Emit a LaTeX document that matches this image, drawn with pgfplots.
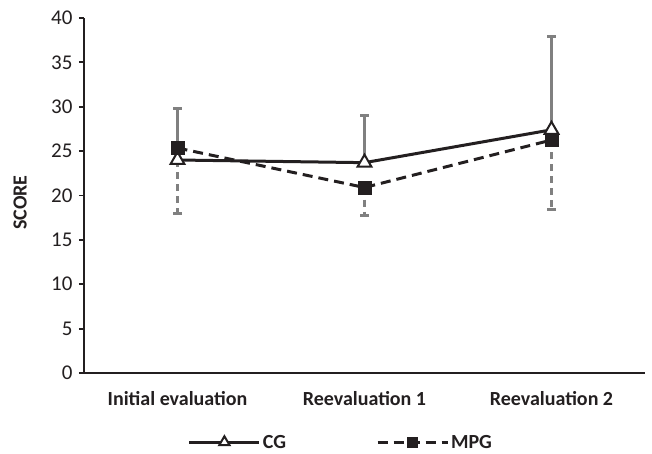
\documentclass[border=0pt]{standalone}
\usepackage{pgfplots}
\pgfplotsset{compat=1.18}
\usepackage{fontspec}
\setmainfont{Carlito}
\definecolor{ink}{HTML}{231F20}
\definecolor{errgray}{HTML}{808080}
\begin{document}
\begin{tikzpicture}
\path[use as bounding box] (-84pt,-81pt) rectangle (568pt,373pt);
\begin{axis}[
  at={(0,0)}, anchor=south west,
  scale only axis, width=561pt, height=355pt,
  xmin=-0.5, xmax=2.5, ymin=0, ymax=40,
  axis x line=bottom, axis y line=left,
  axis line style={-, draw=ink, line width=1.8pt},
  ytick={0,5,...,40},
  xtick={0,1,2},
  xticklabels={Initial evaluation, Reevaluation 1, Reevaluation 2},
  major x tick style={draw=none},
  major y tick style={draw=ink, line width=1.8pt},
  tick align=outside, major tick length=5pt,
  /pgf/number format/assume math mode=true,
  tick label style={font=\fontsize{21}{24}\selectfont, text=ink},
  x tick label style={font=\fontsize{20}{23}\selectfont\bfseries, yshift=-10pt},
  y tick label style={xshift=-3pt},
  ylabel={SCORE},
  ylabel style={font=\fontsize{20}{23}\selectfont\bfseries, text=ink, at={(axis description cs:-0.114,0.48)}, anchor=center},
  legend style={at={(axis description cs:0.458,-0.195)}, anchor=center, draw=none, fill=none,
    legend columns=2, font=\fontsize{20}{23}\selectfont\bfseries, text=ink,
    /tikz/every even column/.append style={column sep=88pt}},
  legend image code/.code={\draw[mark repeat=2, mark phase=2, #1, every mark/.append style={scale=0.75}] plot coordinates {(0pt,0pt) (35pt,0pt) (70pt,0pt)};},
]
% error bars first (behind markers)
\addplot[forget plot, only marks, mark=none,
  error bars/.cd, y dir=plus, y explicit,
  error bar style={draw=errgray, solid, line width=3pt},
  error mark=|, error mark options={draw=errgray, solid, line width=3pt, mark size=4.5pt}]
  table[x=x, y=y, y error plus=e] {
x y e
0 24.0 5.8
1 23.7 5.3
2 27.4 10.5
};
\addplot[forget plot, only marks, mark=none,
  error bars/.cd, y dir=minus, y explicit,
  error bar style={draw=errgray, dash pattern=on 7pt off 5pt, line width=3pt},
  error mark=|, error mark options={draw=errgray, solid, line width=3pt, mark size=4.5pt}]
  table[x=x, y=y, y error minus=e] {
x y e
0 25.35 7.35
1 20.9 3.1
2 26.25 7.85
};
% CG
\addplot[ink, line width=3pt, mark=triangle*, mark size=8pt,
  mark options={fill=white, draw=ink, line width=2pt, solid}]
  table[x=x, y=y] {
x y
0 24.0
1 23.7
2 27.4
};
\addlegendentry{CG}
% MPG
\addplot[ink, line width=3pt, dash pattern=on 10pt off 6pt, mark=square*, mark size=6.5pt,
  mark options={fill=ink, draw=ink, line width=0.8pt, solid}]
  table[x=x, y=y] {
x y
0 25.35
1 20.9
2 26.25
};
\addlegendentry{MPG}
\end{axis}
\end{tikzpicture}
\end{document}
